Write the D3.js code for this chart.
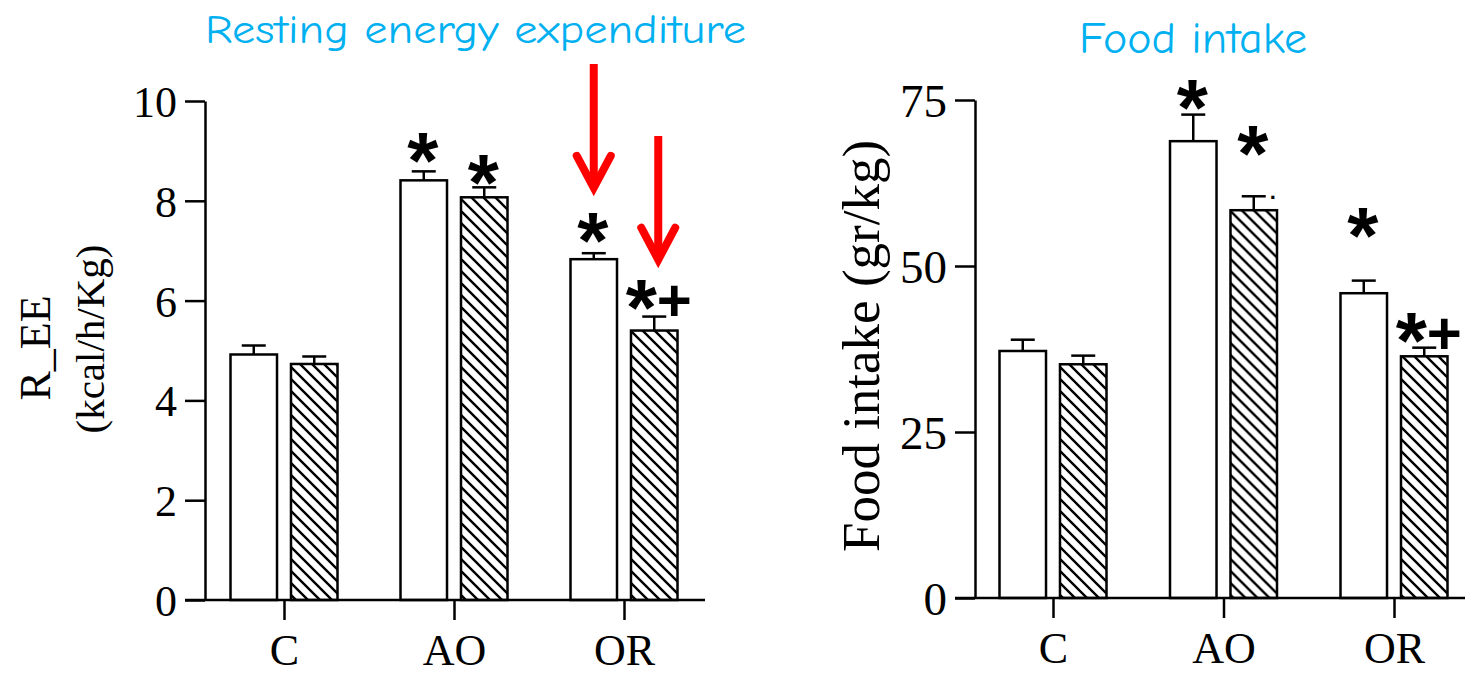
<!DOCTYPE html>
<html>
<head>
<meta charset="utf-8">
<script src="https://cdn.jsdelivr.net/npm/d3@7"></script>
<style>
  body { margin: 0; background: #fff; }
  svg { display: block; }
</style>
</head>
<body>
<svg id="chart" width="1465" height="674"></svg>
<script>
// categories and the two series (open bars / hatched bars)
const categories = ["C", "AO", "OR"];
const series = ["open", "hatched"];

// Resting energy expenditure (kcal/h/Kg)
const reeOpen = [4.92, 8.41, 6.83];
const reeOpenErr = [0.18, 0.18, 0.12];
const reeHatched = [4.73, 8.07, 5.40];
const reeHatchedErr = [0.15, 0.20, 0.28];
const reeTicks = [0, 2, 4, 6, 8, 10];
const reeSig = [["", ""], ["*", "*"], ["*", "*+"]];
const reeSigAt = [[null, null], [8.97, 8.53], [7.37, 6.04]];
// red arrows: [category, series, top value, tip value]
const reeArrows = [["OR", "open", 10.74, 8.26], ["OR", "hatched", 9.30, 6.82]];

// Food intake (gr/kg)
const foodOpen = [37.2, 68.8, 45.9];
const foodOpenErr = [1.7, 4.0, 1.9];
const foodHatched = [35.2, 58.4, 36.4];
const foodHatchedErr = [1.3, 2.1, 1.3];
const foodTicks = [0, 25, 50, 75];
const foodSig = [["", ""], ["*", "*"], ["*", "*+"]];
const foodSigAt = [[null, null], [75.1, 68.2], [55.9, 40.1]];

const svg = d3.select("#chart");
const serif = "'Liberation Serif', 'Times New Roman', serif";
const sans = "'Liberation Sans', Arial, sans-serif";
const titleFont = "'Comic Sans MS', 'Comic Neue', 'Open Sans', sans-serif";

// hatch pattern
const defs = svg.append("defs");
const pat = defs.append("pattern")
  .attr("id", "hatch")
  .attr("patternUnits", "userSpaceOnUse")
  .attr("width", 12).attr("height", 12);
pat.append("rect").attr("width", 12).attr("height", 12).attr("fill", "#fff");
pat.append("path")
  .attr("d", "M-3,-3 L15,15 M-3,9 L3,15 M9,-3 L15,3")
  .attr("stroke", "#000").attr("stroke-width", 2.4);

function drawPanel(cfg) {
  const g = svg.append("g");

  let y = d3.scaleLinear().domain(cfg.domain).range([cfg.y0, cfg.yTop]);
  let x = d3.scalePoint().domain(categories).range([cfg.xFirst, cfg.xLast]);
  let xs = d3.scaleBand().domain(series).range([-53.5, 53.5]).paddingInner(0.231);

  let rows = categories.map((c, i) => ({
    cat: c,
    bars: [
      { s: "open", v: cfg.open[i], e: cfg.openErr[i], sig: cfg.sig[i][0], at: cfg.sigAt[i][0] },
      { s: "hatched", v: cfg.hatched[i], e: cfg.hatchedErr[i], sig: cfg.sig[i][1], at: cfg.sigAt[i][1] }
    ]
  }));

  let groups = g.selectAll(".grp")
    .data(rows)
    .enter().append("g")
      .attr("transform", d => "translate(" + x(d.cat) + ",0)");

  let bar = groups.selectAll(".bar")
    .data(d => d.bars)
    .enter().append("g");

  // error bars (upper only)
  bar.append("line")
    .attr("x1", d => xs(d.s) + xs.bandwidth() / 2)
    .attr("x2", d => xs(d.s) + xs.bandwidth() / 2)
    .attr("y1", d => y(d.v))
    .attr("y2", d => y(d.v + d.e))
    .attr("stroke", "#000").attr("stroke-width", 2.5);
  bar.append("line")
    .attr("x1", d => xs(d.s) + xs.bandwidth() / 2 - 12)
    .attr("x2", d => xs(d.s) + xs.bandwidth() / 2 + 12)
    .attr("y1", d => y(d.v + d.e))
    .attr("y2", d => y(d.v + d.e))
    .attr("stroke", "#000").attr("stroke-width", 2.5);

  bar.append("rect")
    .attr("x", d => xs(d.s))
    .attr("y", d => y(d.v))
    .attr("width", xs.bandwidth())
    .attr("height", d => y(0) - y(d.v))
    .attr("fill", d => d.s == "open" ? "#fff" : "url(#hatch)")
    .attr("stroke", "#000").attr("stroke-width", 2.5);

  // significance marks
  let sig = bar.filter(d => d.sig != "");
  sig.append("text")
    .attr("x", d => xs(d.s) + xs.bandwidth() / 2 + (d.sig.length > 1 ? -13 : -1))
    .attr("y", d => y(d.at) + 36)
    .attr("text-anchor", "middle")
    .attr("font-family", sans).attr("font-weight", "bold")
    .attr("font-size", 80)
    .text("*");
  sig.filter(d => d.sig.indexOf("+") >= 0).append("text")
    .attr("x", d => xs(d.s) + xs.bandwidth() / 2 + 20)
    .attr("y", d => y(d.at) + 22)
    .attr("text-anchor", "middle")
    .attr("font-family", sans).attr("font-weight", "bold")
    .attr("font-size", 60)
    .text("+");

  // y axis
  let yAxis = g.append("g")
    .attr("transform", "translate(" + cfg.axisX + ",0)")
    .call(d3.axisLeft(y).tickValues(cfg.ticks).tickSize(20).tickSizeOuter(0).tickPadding(8));
  yAxis.select(".domain").attr("stroke-width", 2.5);
  yAxis.selectAll(".tick line").attr("stroke-width", 2.5);
  yAxis.selectAll(".tick text")
    .attr("font-family", serif).attr("font-size", cfg.tickFont).attr("fill", "#000")
    .attr("dy", "0.35em");

  // x axis
  let xAxis = g.append("g")
    .attr("transform", "translate(0," + cfg.y0 + ")")
    .call(d3.axisBottom(x).tickSize(20).tickSizeOuter(0).tickPadding(14));
  xAxis.select(".domain").remove();
  xAxis.selectAll(".tick line").attr("stroke-width", 2.5);
  xAxis.selectAll(".tick text")
    .attr("font-family", serif).attr("font-size", 44).attr("fill", "#000");
  g.append("line")
    .attr("x1", cfg.axisX - 20).attr("x2", cfg.xAxisEnd)
    .attr("y1", cfg.y0).attr("y2", cfg.y0)
    .attr("stroke", "#000").attr("stroke-width", 2.5);

  return { g: g, x: x, xs: xs, y: y };
}

let left = drawPanel({
  domain: [0, 10], y0: 600, yTop: 101,
  xFirst: 284, xLast: 624, axisX: 205, xAxisEnd: 705,
  open: reeOpen, openErr: reeOpenErr, hatched: reeHatched, hatchedErr: reeHatchedErr,
  ticks: reeTicks, sig: reeSig, sigAt: reeSigAt, tickFont: 44
});

let right = drawPanel({
  domain: [0, 75], y0: 598, yTop: 100,
  xFirst: 1053, xLast: 1394, axisX: 975, xAxisEnd: 1465,
  open: foodOpen, openErr: foodOpenErr, hatched: foodHatched, hatchedErr: foodHatchedErr,
  ticks: foodTicks, sig: foodSig, sigAt: foodSigAt, tickFont: 47
});

// stray dot next to the AO hatched cap
right.g.append("text")
  .attr("x", right.x("AO") + right.xs("hatched") + right.xs.bandwidth() / 2 + 19)
  .attr("y", right.y(60.5) + 3)
  .attr("text-anchor", "middle")
  .attr("font-family", sans).attr("font-weight", "bold").attr("font-size", 22)
  .text(".");

// red arrows
reeArrows.forEach(a => {
  let cx = left.x(a[0]) + left.xs(a[1]) + left.xs.bandwidth() / 2 + (a[1] == "hatched" ? 4 : 0);
  let top = left.y(a[2]), tip = left.y(a[3]);
  left.g.append("line")
    .attr("x1", cx).attr("x2", cx).attr("y1", top).attr("y2", tip - 6)
    .attr("stroke", "#ff0000").attr("stroke-width", 8);
  left.g.append("path")
    .attr("d", "M" + (cx - 17) + "," + (tip - 32) + " L" + cx + "," + tip + " L" + (cx + 17) + "," + (tip - 32))
    .attr("fill", "none").attr("stroke", "#ff0000").attr("stroke-width", 8)
    .attr("stroke-linecap", "round").attr("stroke-linejoin", "miter");
});

// y axis titles
svg.append("text")
  .attr("transform", "translate(50,348) rotate(-90)")
  .attr("text-anchor", "middle")
  .attr("font-family", serif).attr("font-size", 44)
  .text("R_EE");
svg.append("text")
  .attr("transform", "translate(104,339) rotate(-90)")
  .attr("text-anchor", "middle")
  .attr("font-family", serif).attr("font-size", 41)
  .text("(kcal/h/Kg)");
svg.append("text")
  .attr("transform", "translate(879,346) rotate(-90)")
  .attr("text-anchor", "middle")
  .attr("font-family", serif).attr("font-size", 53)
  .text("Food intake (gr/kg)");

// panel titles
svg.append("text")
  .attr("x", 205).attr("y", 43)
  .attr("font-family", titleFont).attr("font-size", 40)
  .attr("fill", "#00b0f0")
  .attr("textLength", 541).attr("lengthAdjust", "spacingAndGlyphs")
  .text("Resting energy expenditure");
svg.append("text")
  .attr("x", 1079).attr("y", 53)
  .attr("font-family", titleFont).attr("font-size", 44)
  .attr("fill", "#00b0f0")
  .attr("textLength", 228).attr("lengthAdjust", "spacingAndGlyphs")
  .text("Food intake");
</script>
</body>
</html>
